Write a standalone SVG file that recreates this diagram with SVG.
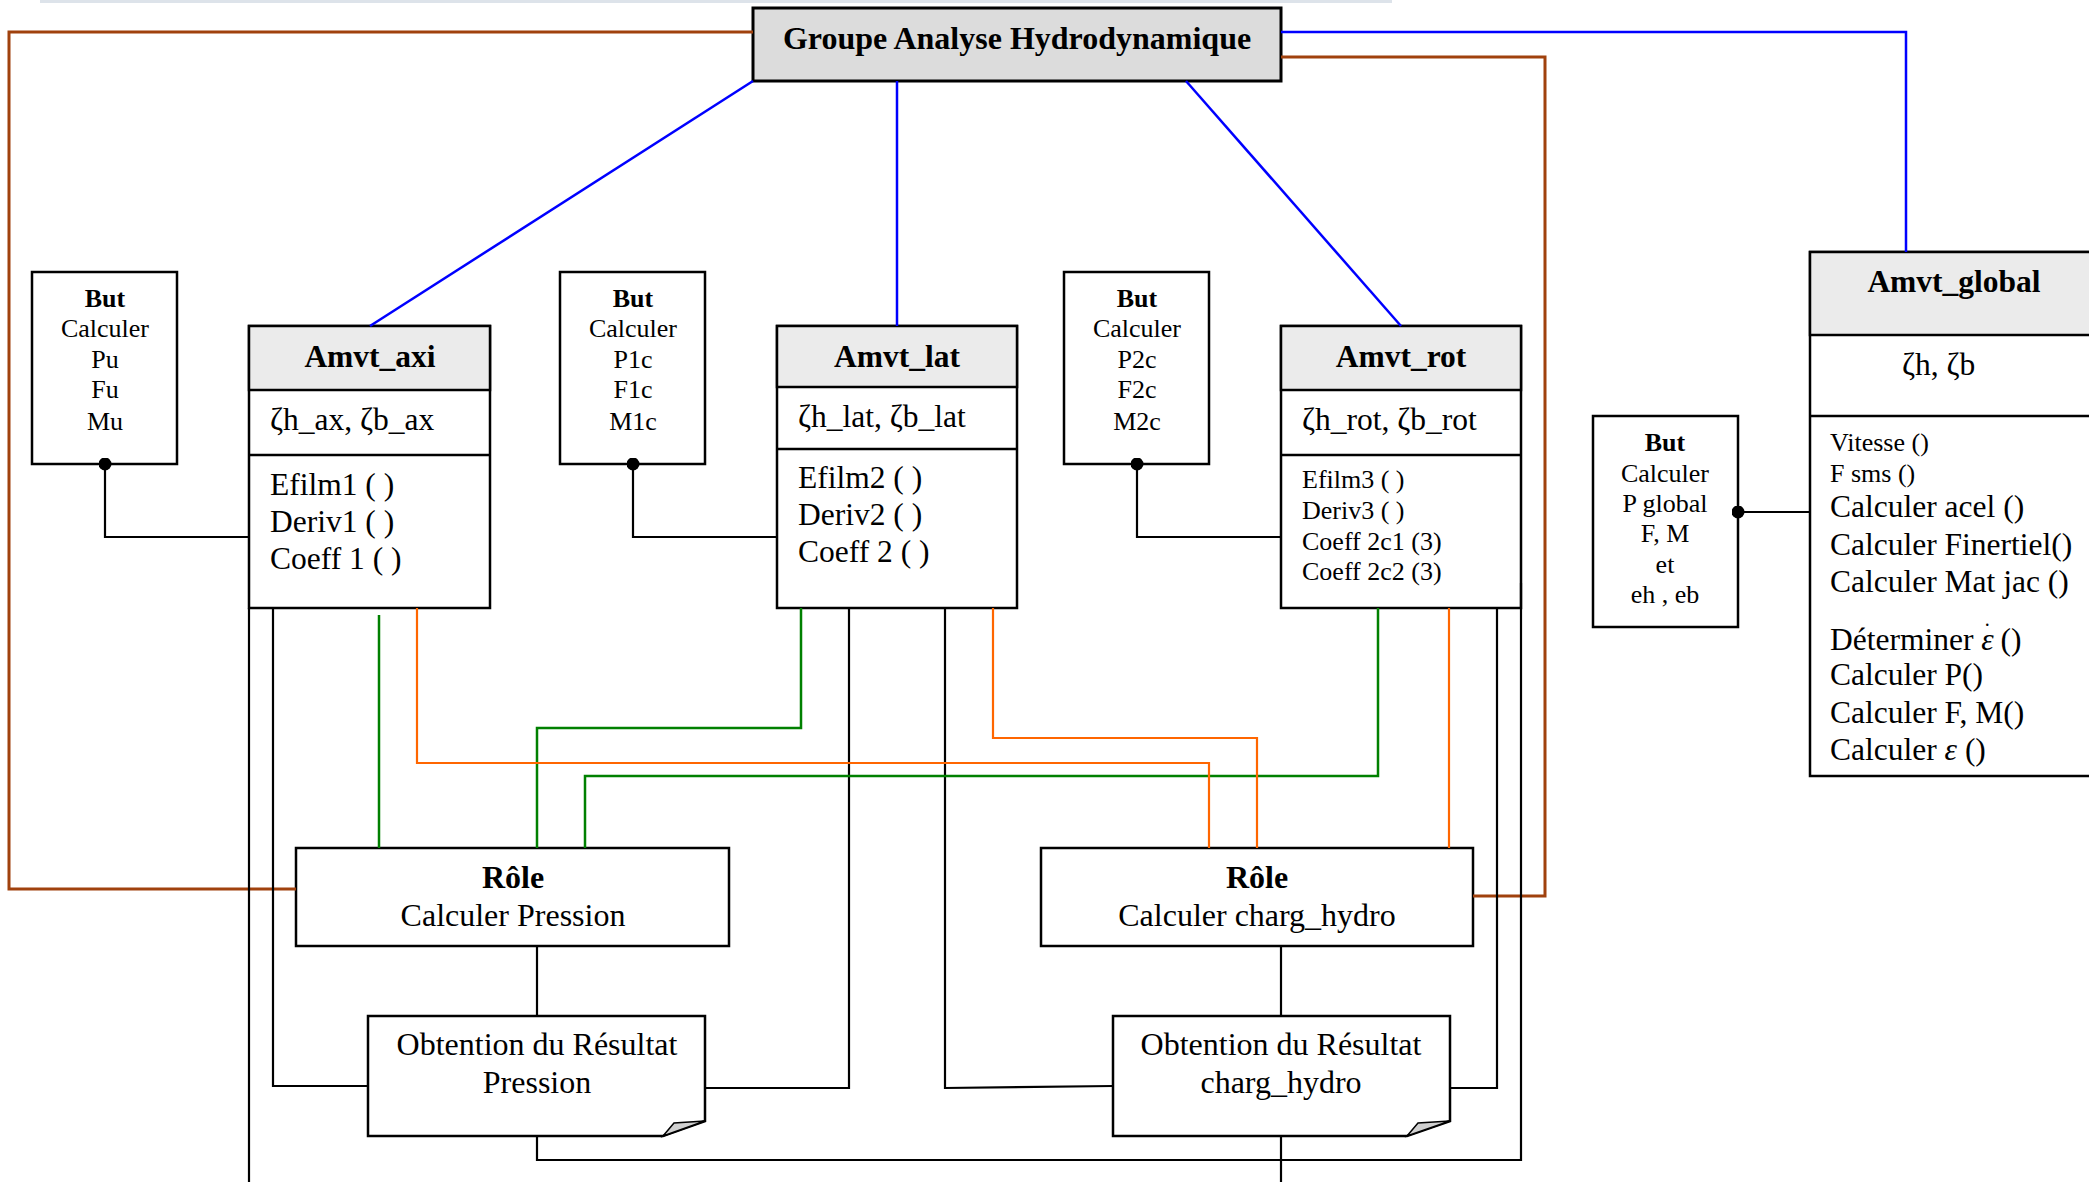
<svg xmlns="http://www.w3.org/2000/svg" width="2089" height="1182" viewBox="0 0 2089 1182">
<style>
.box{fill:#fff;stroke:#000;stroke-width:2.5}
.hdr{fill:#ebebeb;stroke:#000;stroke-width:2.5}
.grp{fill:#dcdcdc;stroke:#000;stroke-width:3}
.fold{fill:#d0d0d0;stroke:#000;stroke-width:1.5}
text{font-family:"Liberation Serif","Times New Roman",serif;fill:#000}
.b{font-weight:bold}
.f32{font-size:32px}
.f31{font-size:31.5px}
.f26{font-size:26px}
.m{text-anchor:middle}
.k{stroke:#000;stroke-width:2.2;fill:none}
.br{stroke:#a0410d;stroke-width:3;fill:none}
.bl{stroke:#0000ff;stroke-width:2.5;fill:none}
.gr{stroke:#008000;stroke-width:2.5;fill:none}
.or{stroke:#ff6600;stroke-width:2.2;fill:none}
.dot{fill:#000}
</style>
<defs>
<marker id="dot" viewBox="0 0 10 10" refX="5" refY="5" markerWidth="13" markerHeight="13" markerUnits="userSpaceOnUse"><circle cx="5" cy="5" r="5" class="dot"/></marker>
</defs>
<rect x="40" y="0" width="1352" height="3" fill="#dde3ea"/>

<g id="groupe">
<rect class="grp" x="753" y="8" width="528" height="73"/>
<text class="b f32 m" x="1017" y="49">Groupe Analyse Hydrodynamique</text>
</g>

<g id="but1">
<rect class="box" x="32" y="272" width="145" height="192"/>
<text class="f26 m b" x="105" y="307">But</text>
<text class="f26 m" x="105" y="337">Calculer</text>
<text class="f26 m" x="105" y="368">Pu</text>
<text class="f26 m" x="105" y="398">Fu</text>
<text class="f26 m" x="105" y="430">Mu</text>
</g>
<g id="but2">
<rect class="box" x="560" y="272" width="145" height="192"/>
<text class="f26 m b" x="633" y="307">But</text>
<text class="f26 m" x="633" y="337">Calculer</text>
<text class="f26 m" x="633" y="368">P1c</text>
<text class="f26 m" x="633" y="398">F1c</text>
<text class="f26 m" x="633" y="430">M1c</text>
</g>
<g id="but3">
<rect class="box" x="1064" y="272" width="145" height="192"/>
<text class="f26 m b" x="1137" y="307">But</text>
<text class="f26 m" x="1137" y="337">Calculer</text>
<text class="f26 m" x="1137" y="368">P2c</text>
<text class="f26 m" x="1137" y="398">F2c</text>
<text class="f26 m" x="1137" y="430">M2c</text>
</g>
<g id="but4">
<rect class="box" x="1593" y="416" width="145" height="211"/>
<text class="f26 m b" x="1665" y="451">But</text>
<text class="f26 m" x="1665" y="482">Calculer</text>
<text class="f26 m" x="1665" y="512">P global</text>
<text class="f26 m" x="1665" y="542">F, M</text>
<text class="f26 m" x="1665" y="573">et</text>
<text class="f26 m" x="1665" y="603">eh , eb</text>
</g>

<g id="amvt_axi">
<rect class="box" x="249" y="326" width="241" height="282"/>
<rect class="hdr" x="249" y="326" width="241" height="64"/>
<line class="k" x1="249" y1="455" x2="490" y2="455" style="stroke-width:2.5"/>
<text class="b f31 m" x="370" y="367">Amvt_axi</text>
<text class="f31" x="270" y="430">ζh_ax, ζb_ax</text>
<text class="f31" x="270" y="495">Efilm1 ( )</text>
<text class="f31" x="270" y="532">Deriv1 ( )</text>
<text class="f31" x="270" y="569">Coeff 1 ( )</text>
</g>

<g id="amvt_lat">
<rect class="box" x="777" y="326" width="240" height="282"/>
<rect class="hdr" x="777" y="326" width="240" height="61"/>
<line class="k" x1="777" y1="449" x2="1017" y2="449" style="stroke-width:2.5"/>
<text class="b f31 m" x="897" y="367">Amvt_lat</text>
<text class="f31" x="798" y="427">ζh_lat, ζb_lat</text>
<text class="f31" x="798" y="488">Efilm2 ( )</text>
<text class="f31" x="798" y="525">Deriv2 ( )</text>
<text class="f31" x="798" y="562">Coeff 2 ( )</text>
</g>

<g id="amvt_rot">
<rect class="box" x="1281" y="326" width="240" height="282"/>
<rect class="hdr" x="1281" y="326" width="240" height="64"/>
<line class="k" x1="1281" y1="455" x2="1521" y2="455" style="stroke-width:2.5"/>
<text class="b f31 m" x="1401" y="367">Amvt_rot</text>
<text class="f31" x="1302" y="430">ζh_rot, ζb_rot</text>
<text class="f26" x="1302" y="488">Efilm3 ( )</text>
<text class="f26" x="1302" y="519">Deriv3 ( )</text>
<text class="f26" x="1302" y="550">Coeff 2c1 (3)</text>
<text class="f26" x="1302" y="580">Coeff 2c2 (3)</text>
</g>

<g id="amvt_global">
<rect class="box" x="1810" y="252" width="300" height="524"/>
<rect class="hdr" x="1810" y="252" width="300" height="83"/>
<line class="k" x1="1810" y1="416" x2="2100" y2="416" style="stroke-width:2.5"/>
<text class="b f31 m" x="1954" y="292">Amvt_global</text>
<text class="f31" x="1902" y="375">ζh, ζb</text>
<text class="f26" x="1830" y="451">Vitesse ()</text>
<text class="f26" x="1830" y="482">F sms ()</text>
<text class="f31" x="1830" y="517">Calculer acel ()</text>
<text class="f31" x="1830" y="555">Calculer Finertiel()</text>
<text class="f31" x="1830" y="592">Calculer Mat jac ()</text>
<text class="f31" x="1830" y="650">Déterminer  <tspan font-style="italic">ε</tspan><tspan dx="-9" dy="-24" font-size="20">.</tspan><tspan dx="3" dy="24"> ()</tspan></text>
<text class="f31" x="1830" y="685">Calculer P()</text>
<text class="f31" x="1830" y="723">Calculer F, M()</text>
<text class="f31" x="1830" y="760">Calculer  <tspan font-style="italic">ε</tspan> ()</text>
</g>

<g id="role_pression">
<rect class="box" x="296" y="848" width="433" height="98"/>
<text class="b f32 m" x="513" y="888">Rôle</text>
<text class="f32 m" x="513" y="926">Calculer Pression</text>
</g>
<g id="role_charg">
<rect class="box" x="1041" y="848" width="432" height="98"/>
<text class="b f32 m" x="1257" y="888">Rôle</text>
<text class="f32 m" x="1257" y="926">Calculer charg_hydro</text>
</g>
<g id="res_pression">
<path class="box" d="M368,1016 H705 V1121 L663,1136 H368 Z"/>
<path class="fold" d="M663,1136 L674,1123 L705,1121 Z"/>
<text class="f32 m" x="537" y="1055">Obtention du Résultat</text>
<text class="f32 m" x="537" y="1093">Pression</text>
</g>
<g id="res_charg">
<path class="box" d="M1113,1016 H1450 V1121 L1407,1136 H1113 Z"/>
<path class="fold" d="M1407,1136 L1418,1123 L1450,1121 Z"/>
<text class="f32 m" x="1281" y="1055">Obtention du Résultat</text>
<text class="f32 m" x="1281" y="1093">charg_hydro</text>
</g>

<g id="connectors">
<path class="br" d="M753,32 H9 V889 H296"/>
<path class="br" d="M1281,57 H1545 V896 H1473"/>
<path class="bl" d="M1281,32 H1906 V252"/>
<path class="bl" d="M753,81 L370,326"/>
<path class="bl" d="M897,81 V326"/>
<path class="bl" d="M1186,81 L1401,326"/>
<path class="k" marker-start="url(#dot)" d="M105,464 V537 H249"/>
<path class="k" marker-start="url(#dot)" d="M633,464 V537 H777"/>
<path class="k" marker-start="url(#dot)" d="M1137,464 V537 H1281"/>
<path class="k" marker-start="url(#dot)" d="M1738,512 H1810"/>
<path class="k" d="M249,608 V1182"/>
<path class="k" d="M273,608 V1086 H368"/>
<path class="k" d="M849,608 V1088 H705"/>
<path class="k" d="M945,608 V1088 L1113,1086"/>
<path class="k" d="M1497,608 V1088 H1450"/>
<path class="k" d="M1521,583 V1160 H537 V1136"/>
<path class="k" d="M537,946 V1016"/>
<path class="k" d="M1281,946 V1016"/>
<path class="k" d="M1281,1136 V1182"/>
<path class="gr" d="M379,615 V848"/>
<path class="gr" d="M801,608 V728 H537 V848"/>
<path class="gr" d="M1378,608 V776 H585 V848"/>
<path class="or" d="M417,608 V763 H1209 V848"/>
<path class="or" d="M993,608 V738 H1257 V848"/>
<path class="or" d="M1449,608 V848"/>
</g>
</svg>
